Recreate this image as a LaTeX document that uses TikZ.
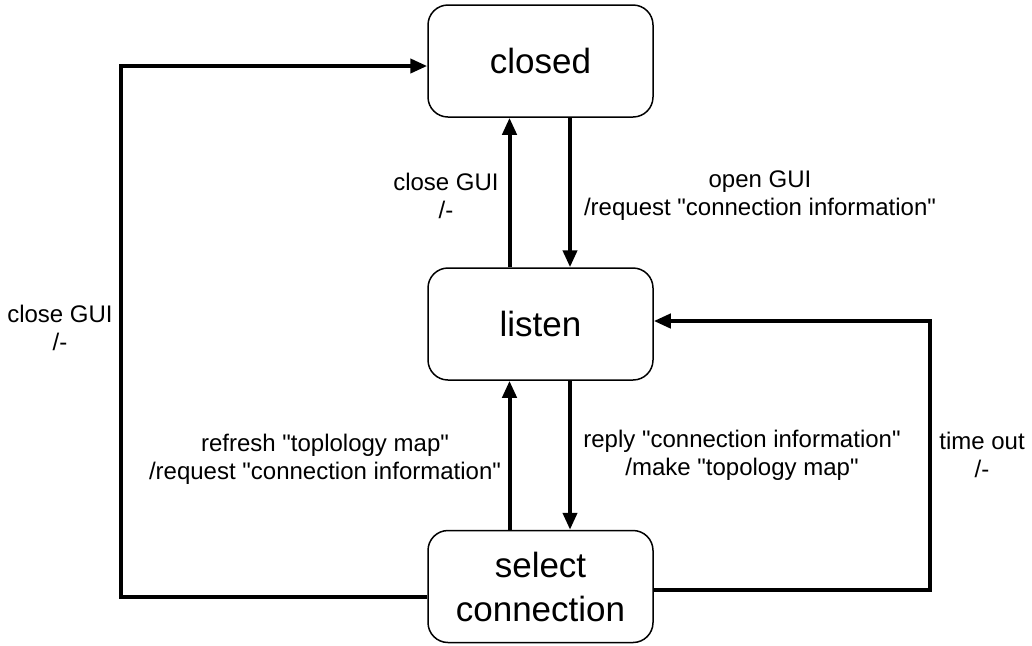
\documentclass[tikz,border=0pt]{standalone}
\usepackage{fontspec}
\setmainfont{Liberation Sans}
\usetikzlibrary{arrows.meta}
\newcommand{\qq}[1]{\textquotedbl#1\textquotedbl}
\begin{document}
\begin{tikzpicture}[x=0.5pt,y=-0.5pt]
    \tikzset{
    state/.style={draw,rounded corners=10pt,line width=0.75pt,minimum width=112.5pt,minimum height=56pt,align=center,font=\fontsize{17.5}{22}\selectfont},
    tr/.style={-{Triangle[length=8.5pt,width=7pt]},line width=2pt},
    lbl/.style={align=center,font=\fontsize{12}{14}\selectfont},
    }
    \useasboundingbox (0,0) rectangle (1032,645);
    \node[state] (closed) at (540.5,61) {closed};
    \node[state] (listen) at (540.5,324) {listen};
    \node[state] (select) at (540.5,586.5) {select\\connection};

    \node[lbl] (l1) at (446,196) {close GUI\\/-};
    \node[lbl] (l2) at (760,196) {open GUI\\/request \qq{connection information}};
    \node[lbl] (l3) at (325,459) {refresh \qq{toplology map}\\/request \qq{connection information}};
    \node[lbl] (l4) at (742,455) {reply \qq{connection information}\\/make \qq{topology map}};
    \node[lbl] (l5) at (982,455) {time out\\/-};
    \node[lbl] (l6) at (60,328) {close GUI\\/-};

    \draw[tr] ([xshift=14.75pt]closed.south) -- ([xshift=14.75pt]listen.north);
    \draw[tr] ([xshift=-15.5pt]listen.north) -- ([xshift=-15.5pt]closed.south);
    \draw[tr] ([xshift=14.75pt]listen.south) -- ([xshift=14.75pt]select.north);
    \draw[tr] ([xshift=-15.5pt]select.north) -- ([xshift=-15.5pt]listen.south);
    \draw[tr] ([yshift=-5.25pt]select.west) -| (121,66) -- ([yshift=-2.5pt]closed.west);
    \draw[tr] ([yshift=-1.75pt]select.east) -| (930,321) -- ([yshift=1.5pt]listen.east);
\end{tikzpicture}
\end{document}
